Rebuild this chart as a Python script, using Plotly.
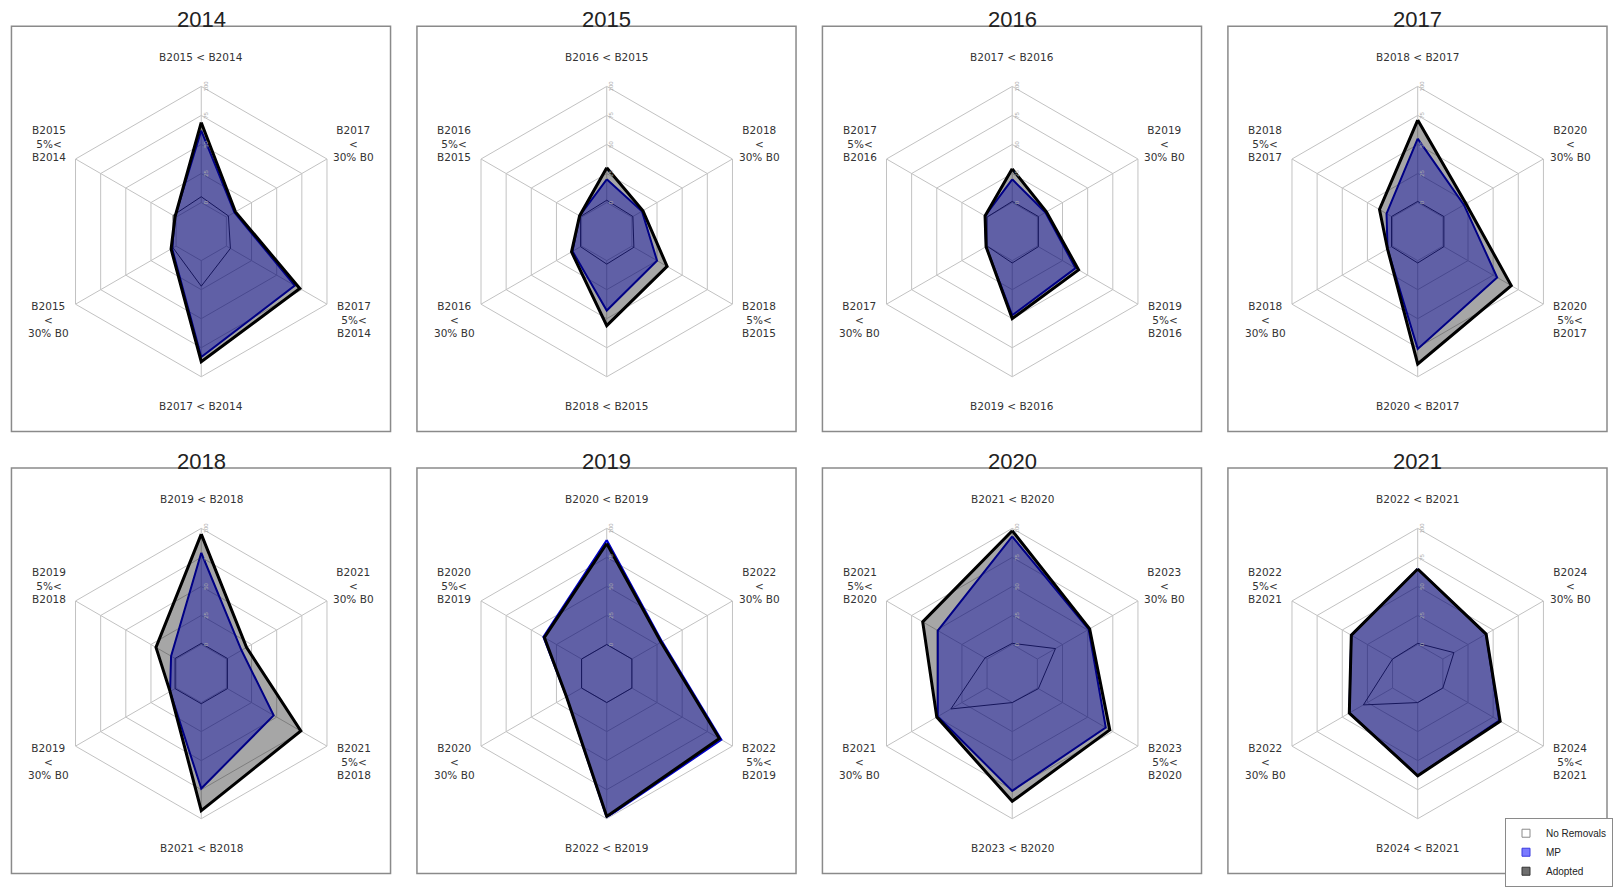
import plotly.graph_objects as go

# Assessment years, one radar panel each
YEARS = [2014, 2015, 2016, 2017, 2018, 2019, 2020, 2021]

# Axis labels, clockwise from the top ({a}=year+1, {c}=year+3, {y}=year)
AXIS_TEMPLATES = [
    "B{a} &lt; B{y}",
    "B{c}<br>&lt;<br>30% B0",
    "B{c}<br>5%&lt;<br>B{y}",
    "B{c} &lt; B{y}",
    "B{a}<br>&lt;<br>30% B0",
    "B{a}<br>5%&lt;<br>B{y}",
]

RADIAL_TICKS = [0, 25, 50, 75, 100]

# Probabilities (%) per axis, same axis order as AXIS_TEMPLATES
NO_REMOVALS = [
    [5, 2, 4, 22, 3, 3],
    [2, 1, 2, 3, 1, 1],
    [1, 1, 1, 2, 0, 0],
    [1, 1, 1, 2, 1, 1],
    [1, 1, 1, 1, 1, 1],
    [0, 0, 0, 0, 0, 0],
    [1, 18, 1, 0, 36, 2],
    [1, 11, 0, 0, 29, 0],
]
MP = [
    [62, 8, 68, 83, 4, 1],
    [20, 10, 25, 43, 9, 2],
    [20, 8, 38, 47, 1, 2],
    [55, 21, 54, 76, 5, 6],
    [79, 15, 47, 74, 6, 5],
    [90, 30, 89, 99, 15, 38],
    [93, 51, 68, 76, 49, 49],
    [65, 43, 56, 63, 43, 41],
]
ADOPTED = [
    [69, 9, 73, 87, 5, 1],
    [30, 11, 35, 56, 10, 2],
    [29, 9, 41, 50, 1, 2],
    [71, 23, 68, 89, 5, 13],
    [95, 20, 74, 93, 6, 20],
    [87, 29, 87, 98, 15, 37],
    [98, 52, 72, 85, 50, 64],
    [65, 43, 57, 63, 43, 41],
]

W, H = 1613, 887
RADIUS = 147
COL_X0, COL_STEP = 202, 407
ROW_Y0, ROW_STEP = 234.5, 447.5
# the value-0 ring sits at one fifth of the radius (open centre)
R_MIN = RADIAL_TICKS[0] - (RADIAL_TICKS[-1] - RADIAL_TICKS[0]) / 4

GRID = "#c2c2c2"

# label offsets (px) from the radar centre, per axis
LABEL_OFFSETS = [(0, -177), (153, -89), (153, 89), (0, 177), (-153, 89), (-153, -89)]

SERIES = [
    ("No Removals", NO_REMOVALS, "rgba(255,255,255,0)", "#3a3a3a", 1),
    ("MP", MP, "rgba(0,0,255,0.42)", "#0000cc", 2),
    ("Adopted", ADOPTED, "rgba(0,0,0,0.35)", "#000000", 3),
]
LEGEND_KEYS = [
    ("No Removals", "#ffffff", "#8a8a8a"),
    ("MP", "#7a7aff", "#3a3ae0"),
    ("Adopted", "#6e6e6e", "#333333"),
]

fig = go.Figure()
annotations = []
shapes = []


def px_x(x):
    return x / W


def px_y(y):
    return 1 - y / H


for k, year in enumerate(YEARS):
    row, col = divmod(k, 4)
    cx = COL_X0 + COL_STEP * col
    cy = ROW_Y0 + ROW_STEP * row
    name = "polar" if k == 0 else f"polar{k + 1}"
    labels = [t.format(a=year + 1, c=year + 3, y=year) for t in AXIS_TEMPLATES]
    theta = labels + labels[:1]

    # spokes from the 0 ring to the 100 ring
    spoke_r, spoke_t = [], []
    for lab in labels:
        spoke_r += [RADIAL_TICKS[0], RADIAL_TICKS[-1], None]
        spoke_t += [lab, lab, None]
    fig.add_trace(go.Scatterpolar(
        r=spoke_r, theta=spoke_t, subplot=name, mode="lines",
        line=dict(color=GRID, width=1), showlegend=False, hoverinfo="skip",
    ))

    for sname, values, fill, line, lw in SERIES:
        r = values[k] + values[k][:1]
        fig.add_trace(go.Scatterpolar(
            r=r, theta=theta, subplot=name, mode="lines",
            fill="toself", fillcolor=fill,
            line=dict(color=line, width=lw),
            name=sname, showlegend=False, hoverinfo="skip",
        ))

    if k == len(YEARS) - 1:
        for lname, fcol, lcol in LEGEND_KEYS:
            fig.add_trace(go.Scatterpolar(
                r=[None], theta=[labels[0]], subplot=name, mode="markers",
                marker=dict(symbol="square", size=8, color=fcol,
                            line=dict(color=lcol, width=1)),
                name=lname, showlegend=True, hoverinfo="skip",
            ))

    fig.layout[name] = dict(
        domain=dict(
            x=[px_x(cx - RADIUS), px_x(cx + RADIUS)],
            y=[px_y(cy + RADIUS), px_y(cy - RADIUS)],
        ),
        bgcolor="rgba(0,0,0,0)",
        gridshape="linear",
        radialaxis=dict(
            range=[R_MIN, RADIAL_TICKS[-1]], tickvals=RADIAL_TICKS,
            ticktext=[str(v) for v in RADIAL_TICKS],
            angle=90, tickangle=0, showline=False, ticks="",
            gridcolor=GRID, gridwidth=1,
            tickfont=dict(size=6, color="#aaaaaa", family="Liberation Sans"),
        ),
        angularaxis=dict(
            categoryorder="array", categoryarray=labels,
            direction="clockwise", rotation=90,
            showticklabels=False, ticks="", showgrid=False,
            showline=True, linecolor=GRID, linewidth=1,
        ),
    )

    for text, (dx, dy) in zip(labels, LABEL_OFFSETS):
        annotations.append(dict(
            x=px_x(cx + dx), y=px_y(cy + dy), xref="paper", yref="paper",
            text=text, showarrow=False, xanchor="center", yanchor="middle",
            font=dict(family="DejaVu Sans", size=10.5, color="#333333"),
        ))

    bx0, bx1 = cx - 190.5, cx + 190
    by0, by1 = cy - 208, cy + 202.5
    shapes.append(dict(
        type="rect", xref="paper", yref="paper",
        x0=px_x(bx0), x1=px_x(bx1), y0=px_y(by1), y1=px_y(by0),
        line=dict(color="#8a8a8a", width=1.5), layer="below",
    ))
    annotations.append(dict(
        x=px_x(cx), y=px_y(cy - 215), xref="paper", yref="paper",
        text=str(year), showarrow=False, xanchor="center", yanchor="middle",
        font=dict(family="Liberation Sans", size=22, color="#222222"),
    ))

fig.update_layout(
    width=W, height=H,
    margin=dict(l=0, r=0, t=0, b=0),
    paper_bgcolor="white", plot_bgcolor="white",
    annotations=annotations, shapes=shapes,
    showlegend=True,
    legend=dict(
        x=px_x(1511), y=px_y(828), xanchor="left", yanchor="top",
        bgcolor="white", bordercolor="#8a8a8a", borderwidth=1,
        font=dict(family="Liberation Sans", size=10, color="#222222"),
        itemwidth=30, tracegroupgap=0,
    ),
)

fig.write_html("out.html")
